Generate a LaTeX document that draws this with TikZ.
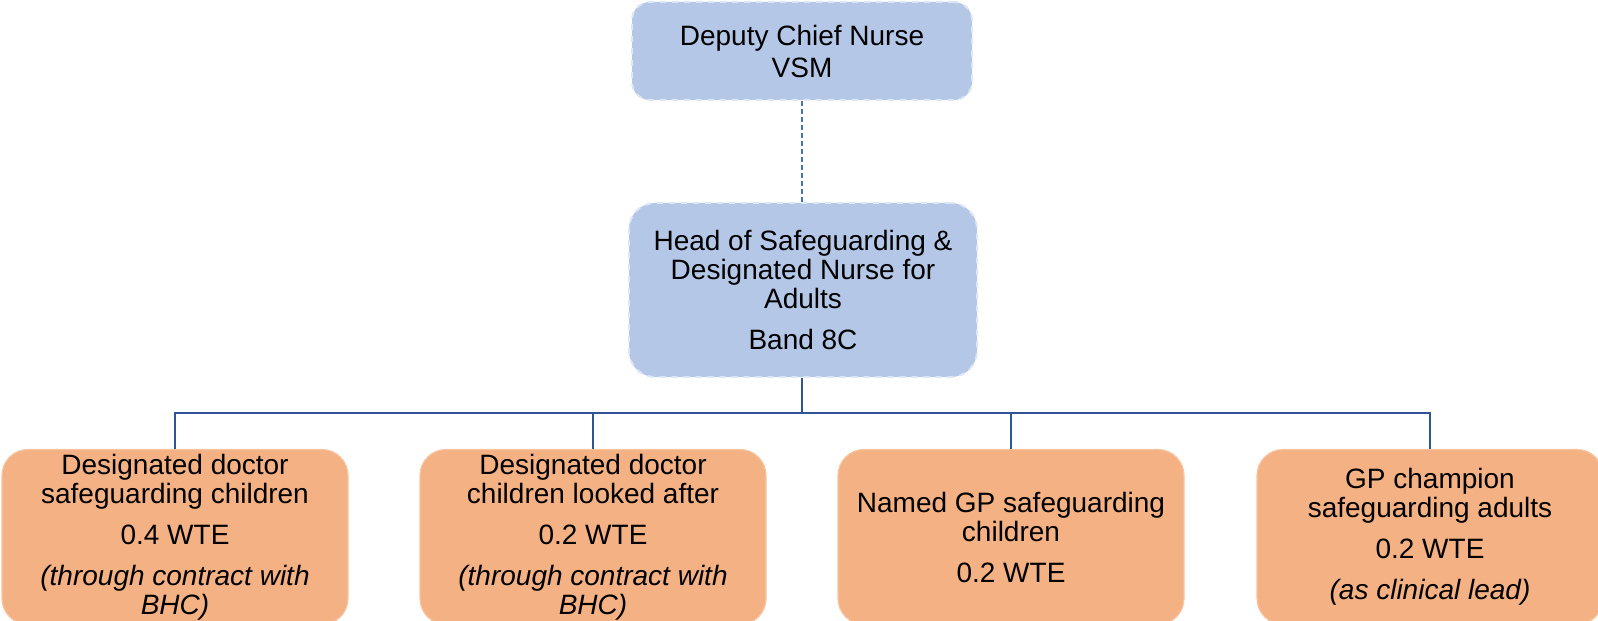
\documentclass[tikz,border=0pt]{standalone}
\usepackage{fontspec}
\setmainfont{Liberation Sans}
\usetikzlibrary{positioning}

\definecolor{boxblue}{HTML}{B4C7E7}
\definecolor{boxorange}{HTML}{F4B183}
\definecolor{linkblue}{HTML}{2F5597}
\definecolor{dashblue}{HTML}{4472C4}

\tikzset{
  lead/.style={draw=boxblue!45!white, dashed, line width=1pt, fill=boxblue,
    align=center, inner sep=0pt},
  post/.style={draw=boxorange!75!white, line width=0.6pt, fill=boxorange,
    rounded corners=13pt, minimum width=173pt, minimum height=87.5pt,
    align=center, inner sep=0pt, font=\fontsize{14}{14.5}\selectfont},
  tree/.style={linkblue, line width=1pt},
  link/.style={dashblue, line width=0.6pt, dash pattern=on 2.5pt off 1.5pt}
}

\begin{document}
\begin{tikzpicture}[x=0.5pt, y=-0.5pt]
  \useasboundingbox (0,0) rectangle (1598,620);

  % management
  \node[lead, rounded corners=9pt, minimum width=170pt, minimum height=49pt,
    font=\fontsize{14}{16}\selectfont] (deputy) at (802,51)
    {Deputy Chief Nurse\\VSM};
  \node[lead, rounded corners=13pt, minimum width=174pt, minimum height=87pt,
    font=\fontsize{14}{14.5}\selectfont] (head) at (803,290)
    {Head of Safeguarding \&\\Designated Nurse for\\Adults\\[6pt]Band 8C};

  % safeguarding posts
  \node[post] (doc1) at (175,537)
    {Designated doctor\\safeguarding children\\[6pt]0.4 WTE\\[6pt]\textit{(through contract with}\\\textit{BHC)}};
  \node[post] (doc2) at (593,537)
    {Designated doctor\\children looked after\\[6pt]0.2 WTE\\[6pt]\textit{(through contract with}\\\textit{BHC)}};
  \node[post] (gp) at (1011,537)
    {Named GP safeguarding\\children\\[6pt]0.2 WTE};
  \node[post] (champ) at (1430,537)
    {GP champion\\safeguarding adults\\[6pt]0.2 WTE\\[6pt]\textit{(as clinical lead)}};

  % reporting lines
  \coordinate (bus) at (802,413);
  \draw[link] (deputy.south) -- (head.north -| deputy.south);
  \foreach \b in {doc1, doc2, gp, champ}
    \draw[tree] (head.south -| bus) -- (bus) -| (\b.north);
\end{tikzpicture}
\end{document}
